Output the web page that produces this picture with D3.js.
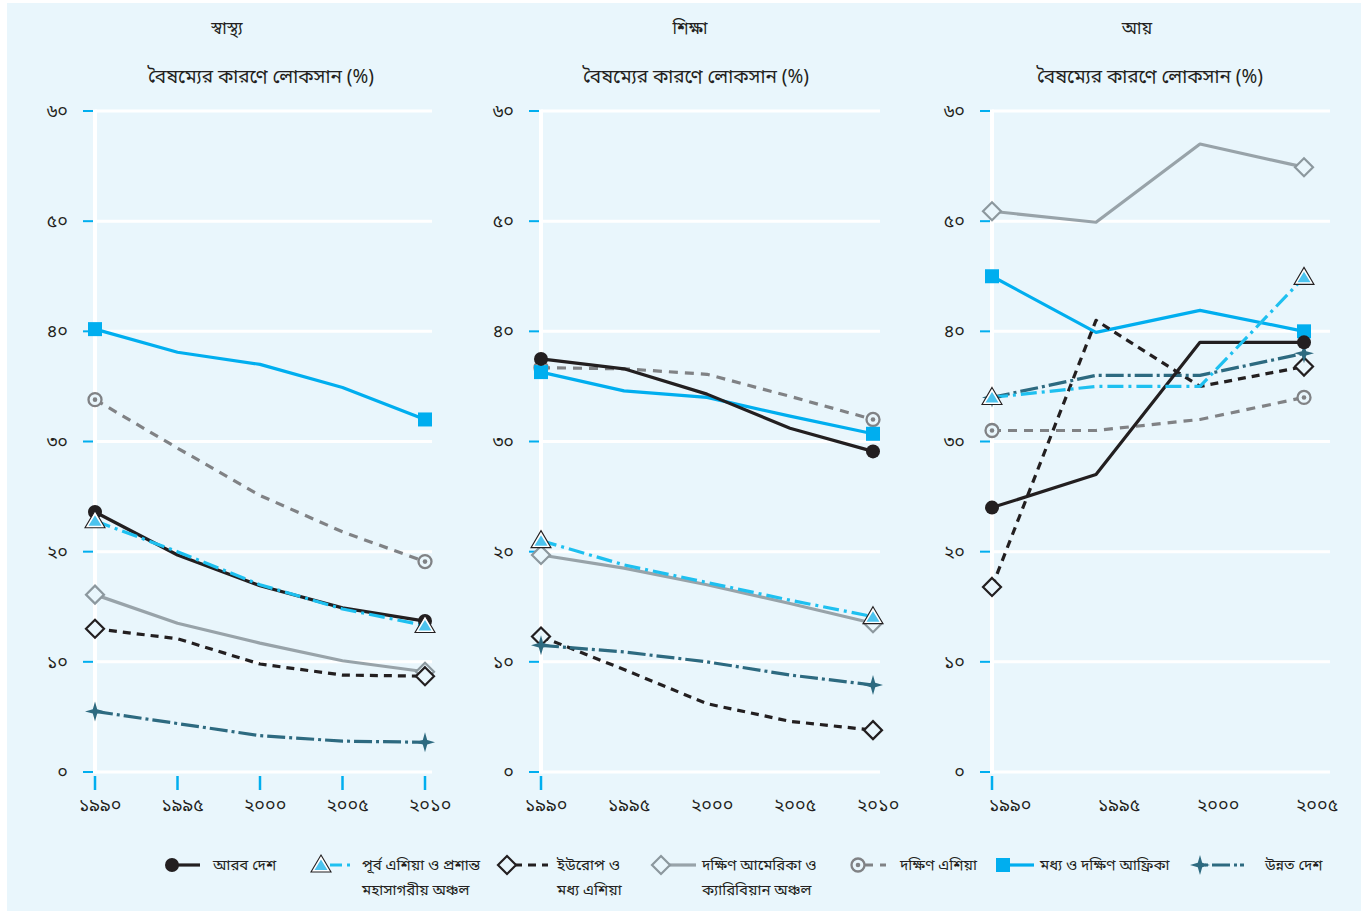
<!DOCTYPE html>
<html><head><meta charset="utf-8">
<script src="https://cdn.jsdelivr.net/npm/d3@7/dist/d3.min.js"></script>
<style>
html,body{margin:0;padding:0;background:#fff;}
text{font-family:"Noto Sans Bengali","Noto Serif Bengali","Lohit Bengali","FreeSerif","Noto Sans",sans-serif;fill:#231f20;}
</style></head>
<body><svg id="c" width="1372" height="914"></svg>
<script>
// ---------- DATA ----------
const seriesNames = ["আরব দেশ", "পূর্ব এশিয়া ও প্রশান্ত মহাসাগরীয় অঞ্চল", "ইউরোপ ও মধ্য এশিয়া",
  "দক্ষিণ আমেরিকা ও ক্যারিবিয়ান অঞ্চল", "দক্ষিণ এশিয়া", "মধ্য ও দক্ষিণ আফ্রিকা", "উন্নত দেশ"];
const legendLines = [["আরব দেশ"], ["পূর্ব এশিয়া ও প্রশান্ত", "মহাসাগরীয় অঞ্চল"], ["ইউরোপ ও", "মধ্য এশিয়া"],
  ["দক্ষিণ আমেরিকা ও", "ক্যারিবিয়ান অঞ্চল"], ["দক্ষিণ এশিয়া"], ["মধ্য ও দক্ষিণ আফ্রিকা"], ["উন্নত দেশ"]];
const panelTitles = ["স্বাস্থ্য", "শিক্ষা", "আয়"];
const panelSubtitle = "বৈষম্যের কারণে লোকসান (%)";
const yTicks = [0, 10, 20, 30, 40, 50, 60];
const healthYears = [1990, 1995, 2000, 2005, 2010];
const educationYears = [1990, 1995, 2000, 2005, 2010];
const incomeYears = [1990, 1995, 2000, 2005];
// values in order of seriesNames
const health = [
  [23.6, 19.7, 16.9, 14.9, 13.7],
  [22.8, 20.0, 17.0, 14.8, 13.3],
  [13.0, 12.1, 9.8, 8.8, 8.7],
  [16.1, 13.5, 11.7, 10.1, 9.1],
  [33.8, 29.4, 25.1, 21.8, 19.1],
  [40.2, 38.1, 37.0, 34.9, 32.0],
  [5.5, 4.4, 3.3, 2.8, 2.7]
];
const education = [
  [37.5, 36.6, 34.3, 31.2, 29.1],
  [21.0, 18.8, 17.2, 15.6, 14.1],
  [12.3, 9.3, 6.2, 4.6, 3.8],
  [19.7, 18.5, 17.0, 15.3, 13.5],
  [36.7, 36.6, 36.1, 34.1, 32.0],
  [36.3, 34.6, 34.0, 32.3, 30.7],
  [11.5, 10.9, 10.0, 8.8, 7.9]
];
const income = [
  [24.0, 27.0, 39.0, 39.0],
  [34.0, 35.0, 35.0, 44.9],
  [16.8, 41.0, 35.0, 36.8],
  [50.9, 49.9, 57.0, 54.9],
  [31.0, 31.0, 32.0, 34.0],
  [45.0, 39.9, 41.9, 40.0],
  [34.0, 36.0, 36.0, 38.0]
];

// ---------- STYLE ----------
const BG = "#e9f6fc";
const styles = [
  {color:"#231f20", dash:null, marker:"circle"},
  {color:"#1ec0f0", dash:"16,5,3,5", marker:"triangle"},
  {color:"#231f20", dash:"8,6", marker:"diamond"},
  {color:"#98a3a9", dash:null, marker:"diamondGray"},
  {color:"#808285", dash:"9,7", marker:"ring"},
  {color:"#00aeef", dash:null, marker:"square"},
  {color:"#2d6a80", dash:"18,4,3,4", marker:"star"}
];
const bn = s => String(s).replace(/[0-9]/g, d => "০১২৩৪৫৬৭৮৯"[+d]);

const svg = d3.select("#c");
svg.append("rect").attr("x",7).attr("y",3).attr("width",1354).attr("height",908).attr("fill",BG);

function drawMarker(g, type, x, y) {
  const m = g.append("g").attr("transform", `translate(${x},${y})`);
  if (type === "circle") m.append("circle").attr("r",7).attr("fill","#231f20");
  else if (type === "square") m.append("rect").attr("x",-7).attr("y",-7).attr("width",14).attr("height",14).attr("fill","#00aeef");
  else if (type === "triangle") {
    m.append("path").attr("d","M0,-10 L10,7 L-10,7 Z").attr("fill","#fff").attr("stroke","#231f20").attr("stroke-width",1.1);
    m.append("path").attr("d","M0,-5.5 L6.5,5 L-6.5,5 Z").attr("fill","#4cc3ee");
  }
  else if (type === "diamond" || type === "diamondGray") {
    m.append("path").attr("d","M0,-9 L9,0 L0,9 L-9,0 Z").attr("fill",BG)
      .attr("stroke", type==="diamond" ? "#231f20" : "#8c989e").attr("stroke-width",2.2);
  }
  else if (type === "ring") {
    m.append("circle").attr("r",6.5).attr("fill",BG).attr("stroke","#808285").attr("stroke-width",2.3);
    m.append("circle").attr("r",2.3).attr("fill","#808285");
  }
  else if (type === "star") {
    const s=10, w=2.2;
    m.append("path").attr("d",`M0,${-s} L${w},${-w} L${s},0 L${w},${w} L0,${s} L${-w},${w} L${-s},0 L${-w},${-w} Z`).attr("fill","#2d6a80");
  }
}

const panels = [
  {title: panelTitles[0], years: healthYears, data: health, x0: 95, x1: 425, gridEnd: 432, titleX: 227, subX: 261, allTicks: true, lblOff:[5,5,5,5,5]},
  {title: panelTitles[1], years: educationYears, data: education, x0: 541, x1: 873, gridEnd: 880, titleX: 690, subX: 696, allTicks: false, lblOff:[5,5,5,5,5]},
  {title: panelTitles[2], years: incomeYears, data: income, x0: 992, x1: 1304, gridEnd: 1330, titleX: 1137, subX: 1150, allTicks: false, lblOff:[18,23,18,13]}
];
const yTop = 111, yBot = 772;

panels.forEach(p => {
  const g = svg.append("g");
  const x = d3.scaleLinear().domain([p.years[0], p.years[p.years.length-1]]).range([p.x0, p.x1]);
  const y = d3.scaleLinear().domain([0, 60]).range([yBot, yTop]);

  g.append("text").attr("x", p.titleX).attr("y", 34).attr("text-anchor","middle").attr("font-size",17).text(p.title);
  g.append("text").attr("x", p.subX).attr("y", 83).attr("text-anchor","middle").attr("font-size",19).text(panelSubtitle);

  g.selectAll("line.grid").data(yTicks).join("line")
    .attr("x1", p.x0).attr("x2", p.gridEnd).attr("y1", d=>y(d)).attr("y2", d=>y(d))
    .attr("stroke","#fff").attr("stroke-width",3);
  g.append("line").attr("x1",p.x0).attr("x2",p.x0).attr("y1",y(60)-1.5).attr("y2",y(0)+1.5).attr("stroke","#fff").attr("stroke-width",4);
  g.selectAll("line.yt").data(yTicks).join("line")
    .attr("x1", p.x0-12).attr("x2", p.x0-2).attr("y1", d=>y(d)).attr("y2", d=>y(d))
    .attr("stroke","#00aeef").attr("stroke-width",2);
  g.selectAll("text.yl").data(yTicks).join("text")
    .attr("x", p.x0-27).attr("y", d=>y(d)+6).attr("text-anchor","end").attr("font-size",18).text(d=>bn(d));
  const xt = p.allTicks ? p.years : [p.years[0]];
  g.selectAll("line.xt").data(xt).join("line")
    .attr("x1", d=>x(d)).attr("x2", d=>x(d)).attr("y1", yBot+4).attr("y2", yBot+18)
    .attr("stroke","#00aeef").attr("stroke-width",2.5);
  g.selectAll("text.xl").data(p.years).join("text")
    .attr("x", (d,i)=>x(d)+p.lblOff[i]).attr("y", 811).attr("text-anchor","middle").attr("font-size",18).text(d=>bn(d));

  const line = d3.line().x((d,i)=>x(p.years[i])).y(d=>y(d)).curve(d3.curveLinear);
  const order = [3,4,5,2,6,0,1];
  order.forEach(si => {
    const st = styles[si];
    g.append("path").attr("d", line(p.data[si])).attr("fill","none")
      .attr("stroke", st.color).attr("stroke-width", 3.2)
      .attr("stroke-dasharray", st.dash).attr("stroke-linejoin","round");
  });
  order.forEach(si => {
    const vals = p.data[si];
    drawMarker(g, styles[si].marker, x(p.years[0]), y(vals[0]));
    drawMarker(g, styles[si].marker, x(p.years[vals.length-1]), y(vals[vals.length-1]));
  });
});

// legend
const legendItems = [
  {mx:172, l1:172, l2:200, tx:213},
  {mx:321, l1:330, l2:355, tx:362},
  {mx:507, l1:514, l2:548, tx:557},
  {mx:661, l1:668, l2:696, tx:702},
  {mx:858, l1:864, l2:886, tx:900},
  {mx:1003, l1:1008, l2:1034, tx:1040},
  {mx:1200, l1:1205, l2:1250, tx:1265}
];
const lg = svg.append("g");
legendItems.forEach((it, i) => {
  const st = styles[i];
  lg.append("line").attr("x1", it.l1).attr("x2", it.l2).attr("y1", 865).attr("y2", 865)
    .attr("stroke", st.color).attr("stroke-width", 3.2).attr("stroke-dasharray", st.dash ? (i===6?"3,4,18,4,3":(i===1?"12,5,3,5":st.dash)) : null);
  drawMarker(lg, st.marker, it.mx, 865);
  legendLines[i].forEach((t, j) => {
    lg.append("text").attr("x", it.tx).attr("y", 870 + j*25).attr("font-size",15).text(t);
  });
});
</script></body></html>
